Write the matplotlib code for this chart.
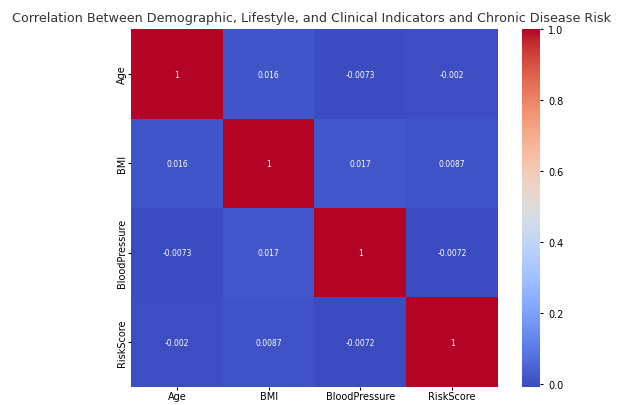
import matplotlib
matplotlib.use("Agg")
import matplotlib.pyplot as plt
import seaborn as sns
import numpy as np
import pandas as pd

# correlation matrix of the indicators
labels = ["Age", "BMI", "BloodPressure", "RiskScore"]
age = [1.0, 0.016, -0.0073, -0.002]
bmi = [0.016, 1.0, 0.017, 0.0087]
blood_pressure = [-0.0073, 0.017, 1.0, -0.0072]
risk_score = [-0.002, 0.0087, -0.0072, 1.0]

corr = pd.DataFrame([age, bmi, blood_pressure, risk_score], index=labels, columns=labels)

fig = plt.figure(figsize=(6.24, 4.06), dpi=100)
ax = fig.add_axes([0.21, 0.045, 0.588, 0.88])
cax = fig.add_axes([0.837, 0.045, 0.029, 0.88])

sns.heatmap(corr, annot=True, cmap="coolwarm", ax=ax, cbar_ax=cax,
            annot_kws={"size": 5.5})
ax.tick_params(labelsize=7, length=2, pad=1)
cax.tick_params(labelsize=7, length=2)
fig.text(0.5, 0.955, "Correlation Between Demographic, Lifestyle, and Clinical Indicators and Chronic Disease Risk",
         fontsize=9.2, color="#333333", ha="center", va="center")

fig.savefig("out.png", dpi=100)
